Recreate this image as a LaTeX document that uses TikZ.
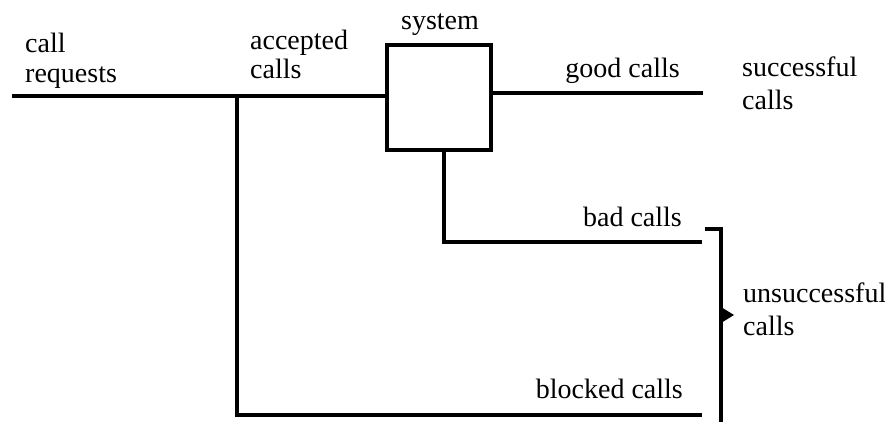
\documentclass[tikz,border=0pt]{standalone}
\usepackage{fontspec}
\setmainfont{Liberation Serif}
\begin{document}
\begin{tikzpicture}[x=1pt,y=-1pt,
  lbl/.style={font=\fontsize{28}{31}\selectfont, inner sep=0pt, anchor=base west},
  lblr/.style={lbl, anchor=base east},
  lblc/.style={lbl, anchor=base},
  wire/.style={line width=3.2pt, line join=miter, line cap=butt},
  sysbox/.style={draw, line width=3.4pt, minimum width=104pt, minimum height=105pt, inner sep=0pt}]
\useasboundingbox (0,0) rectangle (885,422);
% system box
\node[sysbox] (sys) at (439,97.5) {};
% coordinates
\coordinate (in) at (12,96);
\coordinate (acc) at (237,96);
\coordinate (good) at (703,93);
\coordinate (bad) at (702,242);
\coordinate (blk) at (702,415);
\coordinate (brt) at (705,229);
\coordinate (brc) at (721,229);
\coordinate (brb) at (721,426);
\coordinate (tip) at (734,315);
% connectors
\draw[wire] (in) -- (sys.west |- in);
\draw[wire] (sys.east |- good) -- (good);
\draw[wire] (acc) |- (blk);
\draw[wire] ([xshift=5pt]sys.south) |- (bad);
% bracket
\draw[wire] (brt) -- (brc) -- (brb);
\fill (brc |- 0,307) -- (tip) -- (brc |- 0,323) -- cycle;
% labels
\node[lbl] (l1a) at (25,53) {call};
\node[lbl] (l1b) at (25,83) {requests};
\node[lbl] (l2a) at (250,50) {accepted};
\node[lbl] (l2b) at (250,79) {calls};
\node[lblc] (l3) at (440,30) {system};
\node[lblr] (l4) at (680,78) {good calls};
\node[lbl] (l5a) at (742,77) {successful};
\node[lbl] (l5b) at (742,110) {calls};
\node[lblr] (l6) at (682,226) {bad calls};
\node[lbl] (l7a) at (743,302) {unsuccessful};
\node[lbl] (l7b) at (743,335) {calls};
\node[lblr] (l8) at (683,398) {blocked calls};
\end{tikzpicture}
\end{document}
